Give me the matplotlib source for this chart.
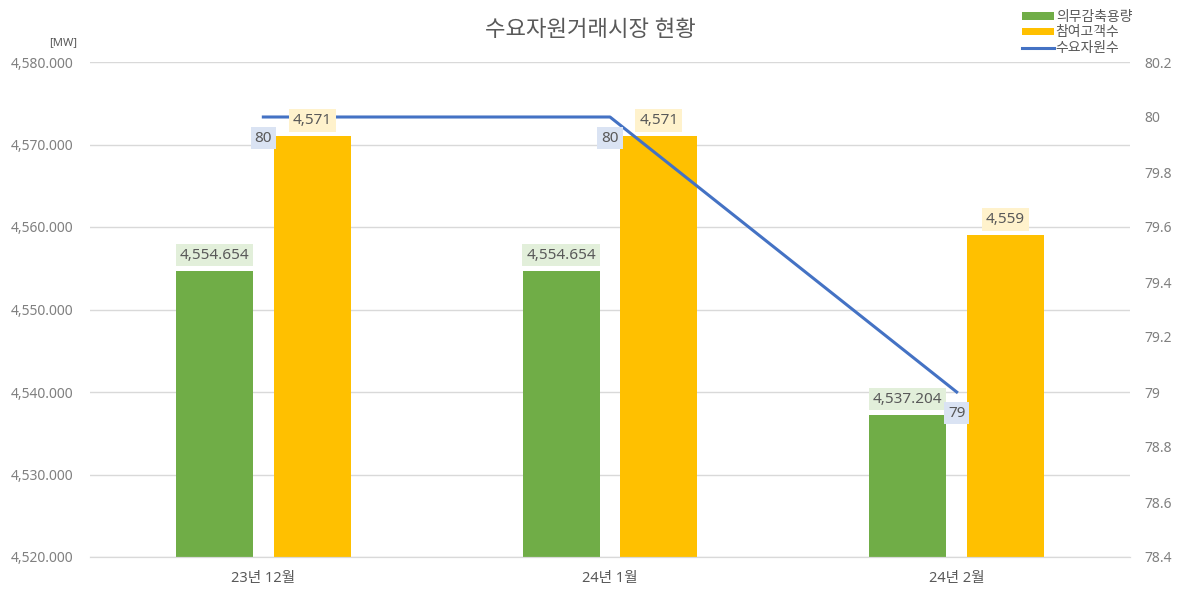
import matplotlib.pyplot as plt
import matplotlib.ticker as mticker
import numpy as np

plt.rcParams['font.family'] = ['Noto Sans', 'Noto Sans CJK KR', 'DejaVu Sans']

categories = ['23년 12월', '24년 1월', '24년 2월']
obligation = [4554.654, 4554.654, 4537.204]   # 의무감축용량
customers = [4571, 4571, 4559]                 # 참여고객수
resources = [80, 80, 79]                       # 수요자원수

GREEN = '#70ad47'
YELLOW = '#ffc000'
BLUE = '#4472c4'
TXT = '#595959'
TICK = '#808080'

fig = plt.figure(figsize=(11.78, 5.95), dpi=100)
ax = fig.add_axes([90 / 1178, 38 / 595, 1040 / 1178, 495 / 595])
ax2 = ax.twinx()

x = np.arange(len(categories))
w = 0.222
off = 0.141

ax.bar(x - off, obligation, w, color=GREEN, zorder=2, label='의무감축용량')
ax.bar(x + off, customers, w, color=YELLOW, zorder=2, label='참여고객수')
ax2.plot(x, resources, color=BLUE, lw=2.2, zorder=3, label='수요자원수')

ax.set_xlim(-0.5, 2.5)
ax.set_ylim(4520, 4580)
ax.yaxis.set_major_locator(mticker.MultipleLocator(10))
ax.yaxis.set_major_formatter(mticker.FuncFormatter(lambda v, p: f'{v:,.3f}'))
ax2.set_ylim(78.4, 80.2)
ax2.set_yticks(np.arange(78.4, 80.21, 0.2))
ax2.yaxis.set_major_formatter(mticker.FuncFormatter(lambda v, p: f'{v:.1f}'.rstrip('0').rstrip('.')))

ax.grid(axis='y', color='#d9d9d9', lw=1, zorder=0)
ax.set_axisbelow(True)
for a in (ax, ax2):
    for s in ('top', 'left', 'right'):
        a.spines[s].set_visible(False)
    a.spines['bottom'].set_color('#d9d9d9')
    a.tick_params(length=0, labelsize=10, labelcolor=TICK)
ax.tick_params(axis='y', pad=12)
ax2.tick_params(axis='y', pad=10)
ax.set_xticks(x)
ax.set_xticklabels(categories, fontsize=10.5, color=TXT)
ax.tick_params(axis='x', pad=10)

# data labels (on ax2 so they sit above the line)
for i in range(len(categories)):
    ax2.annotate(f'{obligation[i]:,.3f}', xy=(x[i] - off, obligation[i]), xycoords=ax.transData,
                 xytext=(0, 16), textcoords='offset pixels', ha='center', va='center',
                 fontsize=11, color=TXT, zorder=5,
                 bbox=dict(boxstyle='square,pad=0.25', fc='#e2efda', ec='none'))
    ax2.annotate(f'{customers[i]:,}', xy=(x[i] + off, customers[i]), xycoords=ax.transData,
                 xytext=(0, 16), textcoords='offset pixels', ha='center', va='center',
                 fontsize=11, color=TXT, zorder=5,
                 bbox=dict(boxstyle='square,pad=0.25', fc='#fff2cc', ec='none'))
    ax2.annotate(f'{resources[i]}', xy=(x[i], resources[i]),
                 xytext=(0, -21), textcoords='offset pixels', ha='center', va='center',
                 fontsize=11, color=TXT, zorder=5,
                 bbox=dict(boxstyle='square,pad=0.25', fc='#dae3f3', ec='none'))

fig.text(590 / 1178, 1 - 31 / 595, '수요자원거래시장 현황', ha='center', va='center',
         fontsize=16, color=TXT)
fig.text(77 / 1178, 1 - 43 / 595, '[MW]', ha='right', va='center', fontsize=8, color=TXT)

h1, l1 = ax.get_legend_handles_labels()
h2, l2 = ax2.get_legend_handles_labels()
fig.legend(h1 + h2, l1 + l2, loc='upper right', bbox_to_anchor=(1142 / 1178, 1.0),
           frameon=False, fontsize=10, labelcolor=TXT, handlelength=2.3,
           handleheight=0.5, handletextpad=0.15, labelspacing=0.05, borderpad=0.2)

fig.savefig('out.png', dpi=100)
